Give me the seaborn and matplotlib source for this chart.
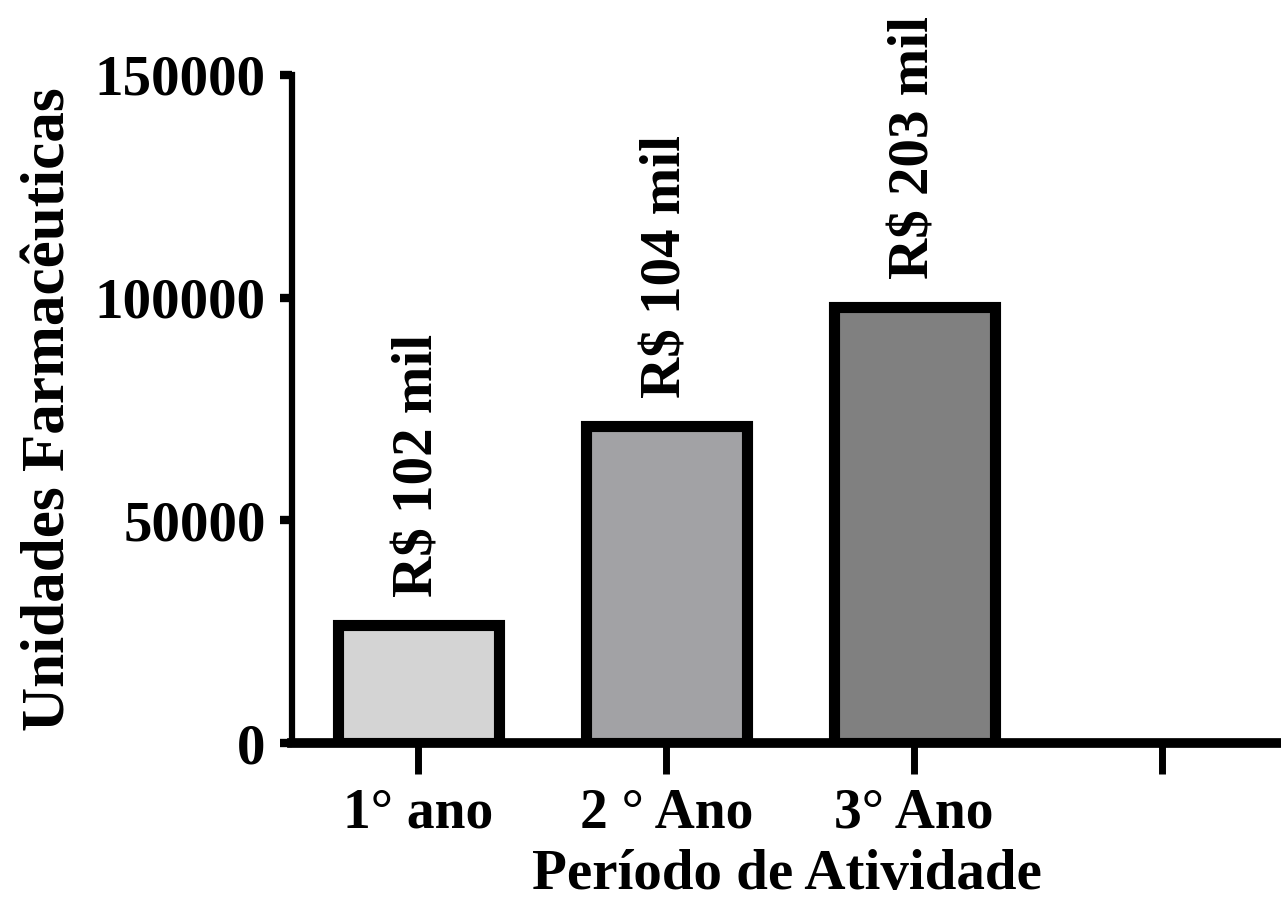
import matplotlib
matplotlib.use("Agg")
import matplotlib.pyplot as plt
import seaborn as sns
import pandas as pd

# data
periodos = ["1° ano", "2 ° Ano", "3° Ano"]
unidades = [26500, 71200, 98000]
valores = ["R$ 102 mil", "R$ 104 mil", "R$ 203 mil"]
tick_labels = ["1° ano", "2 ° Ano", "3° Ano", ""]
y_ticks = [0, 50000, 100000, 150000]
cores = ["#d4d4d4", "#a2a1a6", "#808080"]

sns.set_style("ticks")
plt.rcParams["font.family"] = ["Liberation Serif", "DejaVu Serif"]
plt.rcParams["font.weight"] = "bold"
plt.rcParams["axes.labelweight"] = "bold"
for k in ["text.color", "axes.labelcolor", "xtick.color", "ytick.color", "axes.edgecolor"]:
    plt.rcParams[k] = "black"

df = pd.DataFrame({"periodo": periodos, "unidades": unidades})

fig = plt.figure(figsize=(12.81, 9), dpi=100)
ax = fig.add_axes([0.228, 0.1744, 0.772, 0.7423])

sns.barplot(
    data=df,
    x="periodo",
    y="unidades",
    hue="periodo",
    palette=cores,
    width=0.65,
    edgecolor="black",
    linewidth=8,
    legend=False,
    ax=ax
)

for patch, txt in zip(ax.patches, valores):
    ax.annotate(
        txt,
        (patch.get_x() + patch.get_width() / 2, patch.get_height()),
        xytext=(0, 20),
        textcoords="offset points",
        rotation=90,
        ha="center",
        va="bottom",
        fontsize=41,
        fontweight="bold",
        color="black"
    )

ax.set_xlim(-0.51, 3.48)
ax.set_ylim(0, 150000)
ax.set_xticks(range(len(tick_labels)))
ax.set_xticklabels(tick_labels, fontsize=40, fontweight="bold")
ax.set_yticks(y_ticks)
ax.set_yticklabels([str(v) for v in y_ticks], fontsize=41, fontweight="bold")

ax.tick_params(axis="x", length=22, width=5, pad=10, colors="black")
ax.tick_params(axis="y", length=9, width=6, pad=10, colors="black")

ax.set_xlabel("Período de Atividade", fontsize=41, fontweight="bold", labelpad=7)
ax.set_ylabel("Unidades Farmacêuticas", fontsize=44, fontweight="bold", labelpad=12)

sns.despine(ax=ax)
ax.spines["left"].set_linewidth(4.5)
ax.spines["bottom"].set_linewidth(7)
ax.spines["left"].set_color("black")
ax.spines["bottom"].set_color("black")

fig.savefig("out.png", dpi=100)
plt.close(fig)
